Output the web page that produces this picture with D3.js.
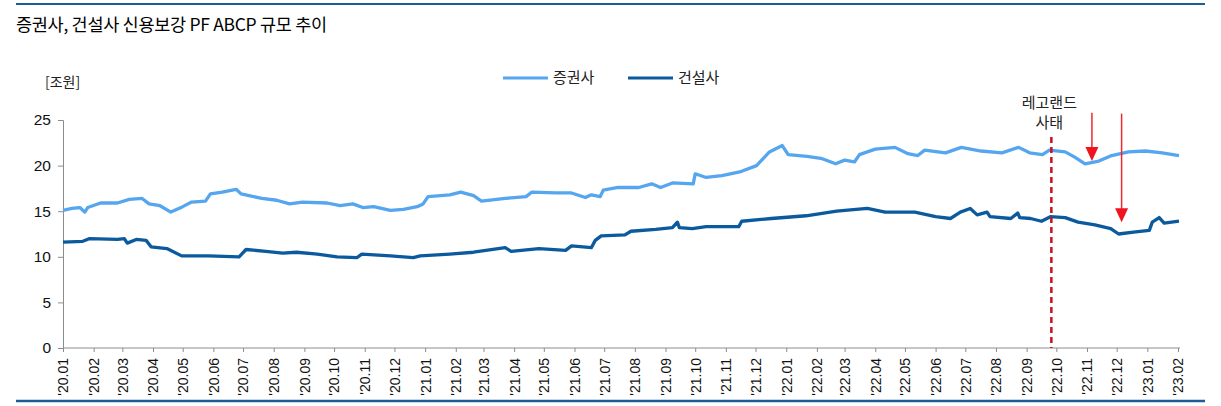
<!DOCTYPE html>
<html>
<head>
<meta charset="utf-8">
<script src="https://cdn.jsdelivr.net/npm/d3@7"></script>
<style>
  body { margin: 0; background: #fff; }
  svg { display: block; }
  text { font-family: "Liberation Sans", Arial, sans-serif; }
  .kr { font-family: "Noto Sans CJK KR", "Noto Sans", sans-serif; }
</style>
</head>
<body>
<div id="chart"></div>
<script>
// 증권사 (securities firms), 조원
var secDates = ["2020-01-01","2020-01-10","2020-01-18","2020-01-23","2020-01-26","2020-02-08","2020-02-25","2020-03-08","2020-03-21","2020-03-28",
  "2020-04-08","2020-04-19","2020-05-01","2020-05-10","2020-05-24","2020-05-29","2020-06-10","2020-06-24","2020-06-29","2020-07-07",
  "2020-07-20","2020-08-04","2020-08-17","2020-08-30","2020-09-24","2020-10-07","2020-10-20","2020-10-30","2020-11-10","2020-11-27",
  "2020-12-10","2020-12-24","2020-12-30","2021-01-04","2021-01-26","2021-02-06","2021-02-19","2021-02-27","2021-03-23","2021-04-13",
  "2021-04-19","2021-05-13","2021-05-29","2021-06-12","2021-06-18","2021-06-27","2021-06-30","2021-07-15","2021-08-05","2021-08-18",
  "2021-08-27","2021-09-08","2021-09-29","2021-10-01","2021-10-12","2021-10-28","2021-11-15","2021-12-02","2021-12-15","2021-12-28",
  "2022-01-03","2022-01-22","2022-02-05","2022-02-20","2022-03-01","2022-03-11","2022-03-16","2022-04-01","2022-04-21","2022-05-04",
  "2022-05-14","2022-05-21","2022-06-11","2022-06-27","2022-07-17","2022-08-07","2022-08-24","2022-09-04","2022-09-17","2022-09-24",
  "2022-10-10","2022-10-20","2022-10-30","2022-11-13","2022-11-26","2022-12-13","2022-12-30","2023-01-16","2023-02-02"];
var secValues = [15.1,15.3,15.4,14.9,15.4,15.9,15.9,16.3,16.4,15.8,
  15.6,14.9,15.5,16.0,16.1,16.9,17.1,17.4,16.9,16.7,
  16.4,16.2,15.8,16.0,15.9,15.6,15.8,15.4,15.5,15.1,
  15.2,15.5,15.8,16.6,16.8,17.1,16.7,16.1,16.4,16.6,
  17.1,17.0,17.0,16.5,16.8,16.6,17.3,17.6,17.6,18.0,
  17.6,18.1,18.0,19.1,18.7,18.9,19.3,20.0,21.5,22.2,
  21.2,21.0,20.8,20.2,20.6,20.4,21.2,21.8,22.0,21.3,
  21.1,21.7,21.4,22.0,21.6,21.4,22.0,21.4,21.2,21.7,
  21.5,20.9,20.2,20.5,21.1,21.5,21.6,21.4,21.1];

// 건설사 (construction firms), 조원
var conDates = ["2020-01-01","2020-01-21","2020-01-28","2020-02-25","2020-03-03","2020-03-06","2020-03-15","2020-03-25","2020-03-30","2020-04-15",
  "2020-04-30","2020-05-27","2020-06-27","2020-07-04","2020-07-24","2020-08-10","2020-08-24","2020-09-14","2020-10-04","2020-10-24",
  "2020-10-29","2020-11-27","2020-12-20","2020-12-27","2021-01-26","2021-02-19","2021-03-23","2021-03-29","2021-04-26","2021-05-23",
  "2021-05-29","2021-06-18","2021-06-22","2021-06-28","2021-07-22","2021-07-28","2021-08-22","2021-09-08","2021-09-13","2021-09-15",
  "2021-09-28","2021-10-12","2021-11-14","2021-11-17","2021-12-17","2022-01-21","2022-02-21","2022-03-24","2022-04-11","2022-05-11",
  "2022-06-01","2022-06-16","2022-06-26","2022-07-06","2022-07-13","2022-07-23","2022-07-26","2022-08-16","2022-08-23","2022-08-25",
  "2022-09-05","2022-09-16","2022-09-25","2022-10-10","2022-10-23","2022-11-09","2022-11-25","2022-12-03","2022-12-18","2023-01-03",
  "2023-01-06","2023-01-13","2023-01-18","2023-02-02"];
var conValues = [11.6,11.7,12.0,11.9,12.0,11.5,11.9,11.8,11.1,10.9,
  10.1,10.1,10.0,10.8,10.6,10.4,10.5,10.3,10.0,9.9,
  10.3,10.1,9.9,10.1,10.3,10.5,11.0,10.6,10.9,10.7,
  11.2,11.0,11.8,12.3,12.4,12.8,13.0,13.2,13.8,13.2,
  13.1,13.3,13.3,13.9,14.2,14.5,15.0,15.3,14.9,14.9,
  14.4,14.2,14.9,15.3,14.6,14.9,14.4,14.2,14.8,14.3,
  14.2,13.9,14.4,14.3,13.8,13.5,13.1,12.5,12.7,12.9,
  13.8,14.3,13.7,13.9];

var monthTicks = d3.range(0, 38).map(function(i) { return new Date(2020, i, 1); });
var yTicks = [0, 5, 10, 15, 20, 25];
var seriesNames = ["증권사", "건설사"];
var seriesColors = ["#55a6ee", "#0b5a9e"];

// event line and arrows (date, value from, value to)
var eventDate = "2022-09-26";
var eventLabel = ["레고랜드", "사태"];
var arrows = [["2022-11-06", 25.8, 20.5], ["2022-12-06", 25.7, 13.8]];

var W = 1221, H = 406;
var parse = d3.timeParse("%Y-%m-%d");

var svg = d3.select("#chart").append("svg")
  .attr("width", W).attr("height", H);

var x = d3.scaleTime()
  .domain([new Date(2020, 0, 1), new Date(2023, 1, 1)])
  .range([63, 1178]);
var y = d3.scaleLinear().domain([0, 25]).range([348, 120]);

// top / bottom rules
svg.append("line").attr("x1", 16).attr("x2", 1205).attr("y1", 4).attr("y2", 4)
  .attr("stroke", "#1f5b94").attr("stroke-width", 2);
svg.append("line").attr("x1", 16).attr("x2", 1205).attr("y1", 401).attr("y2", 401)
  .attr("stroke", "#1f5b94").attr("stroke-width", 2.5);

// title
svg.append("text").attr("class", "kr")
  .attr("x", 16).attr("y", 31)
  .attr("font-size", 17.5).attr("font-weight", 400).attr("fill", "#000")
  .attr("letter-spacing", -0.3)
  .text("증권사, 건설사 신용보강 PF ABCP 규모 추이");

svg.append("text").attr("class", "kr")
  .attr("x", 45).attr("y", 87).attr("font-size", 14).attr("fill", "#222")
  .text("[조원]");

// y axis
var yAxis = d3.axisLeft(y).tickValues(yTicks).tickSize(5).tickPadding(7);
var gy = svg.append("g").attr("transform", "translate(63,0)").call(yAxis);
gy.selectAll("path, line").attr("stroke", "#8c8c8c");
gy.selectAll("text").attr("font-size", 15.5).attr("fill", "#111")
  .attr("font-family", "'Liberation Sans', Arial, sans-serif");

// x axis
var xAxis = d3.axisBottom(x).tickValues(monthTicks).tickSize(4).tickSizeOuter(0)
  .tickFormat(d3.timeFormat("'%y.%m"));
var gx = svg.append("g").attr("transform", "translate(0,348)").call(xAxis);
gx.select(".domain").attr("d", "M63,0H1180");
gx.selectAll("path, line").attr("stroke", "#8c8c8c");
gx.selectAll("text")
  .attr("font-size", 14).attr("fill", "#111")
  .attr("font-family", "'Liberation Sans', Arial, sans-serif")
  .attr("text-anchor", "end")
  .attr("transform", "rotate(-90)")
  .attr("x", -10).attr("y", 0).attr("dy", "0.35em");

// lines
var line = d3.line()
  .x(function(d) { return x(d[0]); })
  .y(function(d) { return y(d[1]); });

var data = [
  secDates.map(function(d, i) { return [parse(d), secValues[i]]; }),
  conDates.map(function(d, i) { return [parse(d), conValues[i]]; })
];

svg.selectAll(".series")
  .data(data)
  .enter().append("path")
  .attr("class", "series")
  .attr("d", line)
  .attr("fill", "none")
  .attr("stroke", function(d, i) { return seriesColors[i]; })
  .attr("stroke-width", 3.3)
  .attr("stroke-linejoin", "round");

// legend
var legend = svg.append("g");
var legX = [503, 628];
seriesNames.forEach(function(name, i) {
  legend.append("line").attr("x1", legX[i]).attr("x2", legX[i] + 45)
    .attr("y1", 78).attr("y2", 78)
    .attr("stroke", seriesColors[i]).attr("stroke-width", 3);
  legend.append("text").attr("class", "kr")
    .attr("x", legX[i] + 50).attr("y", 83).attr("font-size", 15).attr("fill", "#222")
    .text(name);
});

// event line
var ex = x(parse(eventDate));
svg.append("line").attr("x1", ex).attr("x2", ex).attr("y1", 137).attr("y2", 348)
  .attr("stroke", "#c8101e").attr("stroke-width", 2.5).attr("stroke-dasharray", "6,4");
svg.selectAll(".evlabel").data(eventLabel).enter().append("text")
  .attr("class", "kr")
  .attr("x", ex - 2).attr("y", function(d, i) { return 108 + i * 20; })
  .attr("text-anchor", "middle").attr("font-size", 15).attr("fill", "#222")
  .text(function(d) { return d; });

// arrows
arrows.forEach(function(a) {
  var ax = x(parse(a[0])), y0 = y(a[1]), y1 = y(a[2]);
  svg.append("line").attr("x1", ax).attr("x2", ax).attr("y1", y0).attr("y2", y1 - 12)
    .attr("stroke", "#f0282d").attr("stroke-width", 1.5);
  svg.append("path")
    .attr("d", "M" + (ax - 6.5) + "," + (y1 - 14) + "L" + (ax + 6.5) + "," + (y1 - 14) + "L" + ax + "," + y1 + "Z")
    .attr("fill", "#f0141e");
});
</script>
</body>
</html>
